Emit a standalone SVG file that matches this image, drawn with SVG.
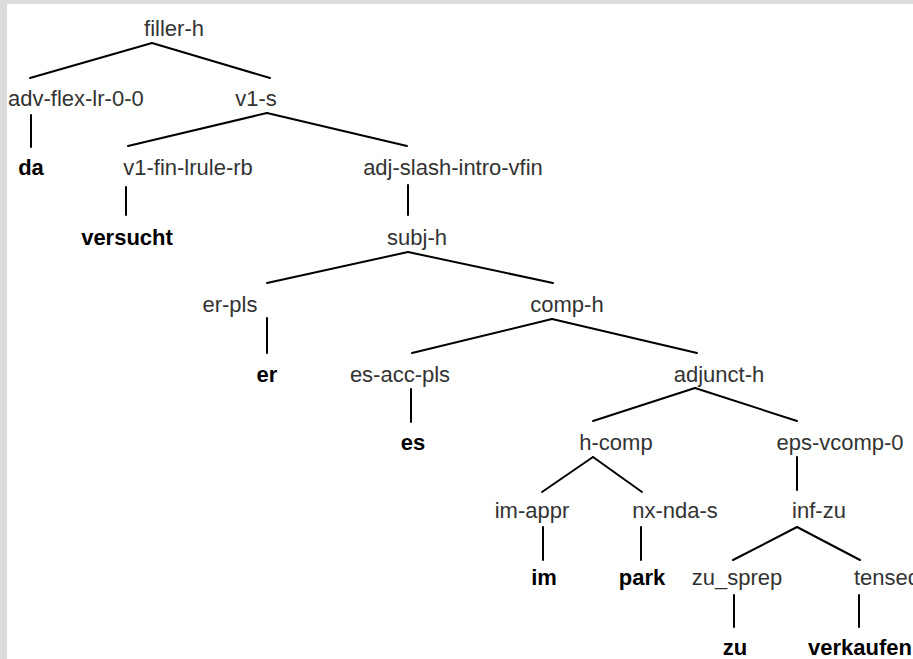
<svg xmlns="http://www.w3.org/2000/svg" width="913" height="659" viewBox="0 0 913 659">
<style>
.l{font-family:"Liberation Sans",Arial,sans-serif;font-size:22px;fill:#333;text-anchor:middle}
.w{font-family:"Liberation Sans",Arial,sans-serif;font-size:22px;font-weight:bold;fill:#000;text-anchor:middle}
.e line{stroke:#000;stroke-width:2;stroke-linecap:round}
</style>
<rect width="913" height="659" fill="#dcdcdc"/>
<rect x="7" y="4" width="906" height="655" fill="#fff"/>
<g class="e" id="connectors">
<line x1="152" y1="43" x2="30" y2="78"/>
<line x1="152" y1="43" x2="270" y2="78"/>
<line x1="267" y1="113" x2="128" y2="146"/>
<line x1="267" y1="113" x2="407" y2="146"/>
<line x1="31" y1="115" x2="31" y2="147"/>
<line x1="126" y1="187" x2="126" y2="215"/>
<line x1="408" y1="185" x2="408" y2="215"/>
<line x1="408" y1="252" x2="267" y2="283"/>
<line x1="408" y1="252" x2="553" y2="283"/>
<line x1="267" y1="318" x2="267" y2="353"/>
<line x1="552" y1="319" x2="412" y2="353"/>
<line x1="552" y1="319" x2="697" y2="353"/>
<line x1="411" y1="389" x2="411" y2="422"/>
<line x1="695" y1="388" x2="593" y2="421"/>
<line x1="695" y1="388" x2="797" y2="421"/>
<line x1="593" y1="457" x2="542" y2="492"/>
<line x1="593" y1="457" x2="642" y2="492"/>
<line x1="797" y1="457" x2="797" y2="490"/>
<line x1="543" y1="527" x2="543" y2="560"/>
<line x1="641" y1="527" x2="641" y2="560"/>
<line x1="797" y1="527" x2="733" y2="560"/>
<line x1="797" y1="527" x2="860" y2="560"/>
<line x1="734" y1="595" x2="734" y2="627"/>
<line x1="859" y1="595" x2="859" y2="627"/>
</g>
<g id="n-filler-h"><text class="l" x="174" y="36">filler-h</text></g>
<g id="n-adv-flex"><text class="l" x="8" y="106" style="text-anchor:start">adv-flex-lr-0-0</text></g>
<g id="n-v1-s"><text class="l" x="256" y="106">v1-s</text></g>
<g id="n-da"><text class="w" x="31" y="175">da</text></g>
<g id="n-v1-fin"><text class="l" x="188" y="175">v1-fin-lrule-rb</text></g>
<g id="n-adj-slash"><text class="l" x="453" y="175">adj-slash-intro-vfin</text></g>
<g id="n-versucht"><text class="w" x="127" y="245">versucht</text></g>
<g id="n-subj-h"><text class="l" x="417" y="245">subj-h</text></g>
<g id="n-er-pls"><text class="l" x="230" y="312">er-pls</text></g>
<g id="n-comp-h"><text class="l" x="567" y="312">comp-h</text></g>
<g id="n-er"><text class="w" x="267" y="382">er</text></g>
<g id="n-es-acc"><text class="l" x="400" y="382">es-acc-pls</text></g>
<g id="n-adjunct-h"><text class="l" x="719" y="382">adjunct-h</text></g>
<g id="n-es"><text class="w" x="413" y="450">es</text></g>
<g id="n-h-comp"><text class="l" x="616" y="450">h-comp</text></g>
<g id="n-eps"><text class="l" x="840" y="450">eps-vcomp-0</text></g>
<g id="n-im-appr"><text class="l" x="532" y="518">im-appr</text></g>
<g id="n-nx"><text class="l" x="675" y="518">nx-nda-s</text></g>
<g id="n-inf-zu"><text class="l" x="819" y="518">inf-zu</text></g>
<g id="n-im"><text class="w" x="544" y="585">im</text></g>
<g id="n-park"><text class="w" x="642" y="585">park</text></g>
<g id="n-zu-sprep"><text class="l" x="737" y="585">zu_sprep</text></g>
<g id="n-tensed"><text class="l" x="854" y="585" style="text-anchor:start">tensed</text></g>
<g id="n-zu"><text class="w" x="735" y="655">zu</text></g>
<g id="n-verkaufen"><text class="w" x="860" y="655">verkaufen</text></g>
</svg>
